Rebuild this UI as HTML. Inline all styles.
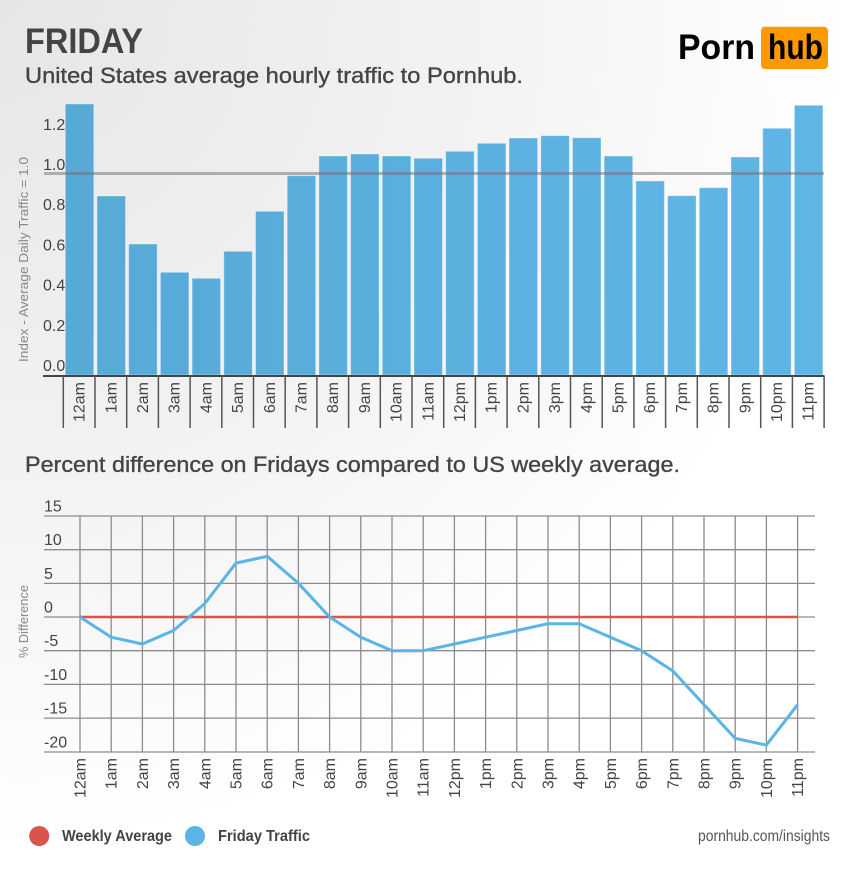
<!DOCTYPE html>
<html>
<head>
<meta charset="utf-8">
<style>
html,body{margin:0;padding:0;width:850px;height:870px;overflow:hidden;background:#fff;}
svg{display:block;}
text{font-family:"Liberation Sans",sans-serif;}
</style>
</head>
<body>
<svg width="850" height="870" viewBox="0 0 850 870" xmlns="http://www.w3.org/2000/svg">
<defs>
<radialGradient id="bg" gradientUnits="userSpaceOnUse" cx="0" cy="0" r="1000">
<stop offset="0" stop-color="#e6e6e6"/>
<stop offset="0.5" stop-color="#f3f3f3"/>
<stop offset="0.85" stop-color="#ffffff"/>
<stop offset="1" stop-color="#ffffff"/>
</radialGradient>
<linearGradient id="barg" gradientUnits="userSpaceOnUse" x1="60" y1="0" x2="830" y2="0">
<stop offset="0" stop-color="#57a9d6"/>
<stop offset="1" stop-color="#5fb6e6"/>
</linearGradient>
</defs>
<rect x="0" y="0" width="850" height="870" fill="url(#bg)"/>

<!-- Header -->
<text x="25" y="53" font-size="35" font-weight="bold" fill="#444" textLength="118" lengthAdjust="spacingAndGlyphs">FRIDAY</text>
<text x="25" y="83" font-size="22" fill="#444" stroke="#444" stroke-width="0.35" textLength="498" lengthAdjust="spacingAndGlyphs">United States average hourly traffic to Pornhub.</text>

<!-- Logo -->
<text x="678" y="59" font-size="35" font-weight="bold" fill="#000" textLength="77" lengthAdjust="spacingAndGlyphs">Porn</text>
<rect x="761" y="26.7" width="67" height="42.3" rx="4" fill="#ff9900"/>
<text x="768" y="59" font-size="35" font-weight="bold" fill="#000" textLength="55" lengthAdjust="spacingAndGlyphs">hub</text>

<!-- Bar chart y title -->
<text transform="translate(28,259.5) rotate(-90)" text-anchor="middle" font-size="13" fill="#888" textLength="205" lengthAdjust="spacingAndGlyphs">Index - Average Daily Traffic = 1.0</text>

<!-- Bar chart y labels -->
<g font-size="16" fill="#444">
<text x="43" y="371">0.0</text>
<text x="43" y="330.8">0.2</text>
<text x="43" y="290.6">0.4</text>
<text x="43" y="250.4">0.6</text>
<text x="43" y="210.2">0.8</text>
<text x="43" y="170">1.0</text>
<text x="43" y="129.8">1.2</text>
</g>

<!-- Bars -->
<g fill="url(#barg)" stroke="rgba(255,255,255,0.35)" stroke-width="1">
<rect x="65.3" y="104" width="28.5" height="271"/>
<rect x="97" y="196" width="28.5" height="179"/>
<rect x="128.7" y="244" width="28.5" height="131"/>
<rect x="160.4" y="272.3" width="28.5" height="102.7"/>
<rect x="192.1" y="278.3" width="28.5" height="96.7"/>
<rect x="223.8" y="251.3" width="28.5" height="123.7"/>
<rect x="255.5" y="211.3" width="28.5" height="163.7"/>
<rect x="287.2" y="175.7" width="28.5" height="199.3"/>
<rect x="318.9" y="156" width="28.5" height="219"/>
<rect x="350.6" y="154" width="28.5" height="221"/>
<rect x="382.3" y="156" width="28.5" height="219"/>
<rect x="414" y="158.3" width="28.5" height="216.7"/>
<rect x="445.7" y="151.3" width="28.5" height="223.7"/>
<rect x="477.4" y="143.3" width="28.5" height="231.7"/>
<rect x="509.1" y="138" width="28.5" height="237"/>
<rect x="540.8" y="135.7" width="28.5" height="239.3"/>
<rect x="572.5" y="137.7" width="28.5" height="237.3"/>
<rect x="604.2" y="156" width="28.5" height="219"/>
<rect x="635.9" y="181" width="28.5" height="194"/>
<rect x="667.6" y="195.7" width="28.5" height="179.3"/>
<rect x="699.3" y="187.7" width="28.5" height="187.3"/>
<rect x="731" y="157" width="28.5" height="218"/>
<rect x="762.7" y="128.3" width="28.5" height="246.7"/>
<rect x="794.4" y="105.3" width="28.5" height="269.7"/>
</g>

<!-- 1.0 reference line -->
<line x1="44" y1="173.5" x2="824" y2="173.5" stroke="rgba(110,110,110,0.5)" stroke-width="3"/>

<!-- Bar axis -->
<line x1="43" y1="376" x2="824.5" y2="376" stroke="#444" stroke-width="2"/>
<g stroke="#555" stroke-width="1.5">
<line x1="63.3" y1="376" x2="63.3" y2="428"/>
<line x1="95" y1="376" x2="95" y2="428"/>
<line x1="126.7" y1="376" x2="126.7" y2="428"/>
<line x1="158.4" y1="376" x2="158.4" y2="428"/>
<line x1="190.1" y1="376" x2="190.1" y2="428"/>
<line x1="221.8" y1="376" x2="221.8" y2="428"/>
<line x1="253.5" y1="376" x2="253.5" y2="428"/>
<line x1="285.2" y1="376" x2="285.2" y2="428"/>
<line x1="316.9" y1="376" x2="316.9" y2="428"/>
<line x1="348.6" y1="376" x2="348.6" y2="428"/>
<line x1="380.3" y1="376" x2="380.3" y2="428"/>
<line x1="412" y1="376" x2="412" y2="428"/>
<line x1="443.7" y1="376" x2="443.7" y2="428"/>
<line x1="475.4" y1="376" x2="475.4" y2="428"/>
<line x1="507.1" y1="376" x2="507.1" y2="428"/>
<line x1="538.8" y1="376" x2="538.8" y2="428"/>
<line x1="570.5" y1="376" x2="570.5" y2="428"/>
<line x1="602.2" y1="376" x2="602.2" y2="428"/>
<line x1="633.9" y1="376" x2="633.9" y2="428"/>
<line x1="665.6" y1="376" x2="665.6" y2="428"/>
<line x1="697.3" y1="376" x2="697.3" y2="428"/>
<line x1="729" y1="376" x2="729" y2="428"/>
<line x1="760.7" y1="376" x2="760.7" y2="428"/>
<line x1="792.4" y1="376" x2="792.4" y2="428"/>
<line x1="824.1" y1="376" x2="824.1" y2="428"/>
</g>

<!-- Bar x labels -->
<g font-size="16" fill="#444" text-anchor="end">
<text transform="translate(84.6,382) rotate(-90)">12am</text>
<text transform="translate(116.3,382) rotate(-90)">1am</text>
<text transform="translate(148,382) rotate(-90)">2am</text>
<text transform="translate(179.7,382) rotate(-90)">3am</text>
<text transform="translate(211.4,382) rotate(-90)">4am</text>
<text transform="translate(243.1,382) rotate(-90)">5am</text>
<text transform="translate(274.8,382) rotate(-90)">6am</text>
<text transform="translate(306.5,382) rotate(-90)">7am</text>
<text transform="translate(338.2,382) rotate(-90)">8am</text>
<text transform="translate(369.9,382) rotate(-90)">9am</text>
<text transform="translate(401.6,382) rotate(-90)">10am</text>
<text transform="translate(433.3,382) rotate(-90)">11am</text>
<text transform="translate(465,382) rotate(-90)">12pm</text>
<text transform="translate(496.7,382) rotate(-90)">1pm</text>
<text transform="translate(528.4,382) rotate(-90)">2pm</text>
<text transform="translate(560.1,382) rotate(-90)">3pm</text>
<text transform="translate(591.8,382) rotate(-90)">4pm</text>
<text transform="translate(623.5,382) rotate(-90)">5pm</text>
<text transform="translate(655.2,382) rotate(-90)">6pm</text>
<text transform="translate(686.9,382) rotate(-90)">7pm</text>
<text transform="translate(718.6,382) rotate(-90)">8pm</text>
<text transform="translate(750.3,382) rotate(-90)">9pm</text>
<text transform="translate(782,382) rotate(-90)">10pm</text>
<text transform="translate(813.7,382) rotate(-90)">11pm</text>
</g>

<!-- Line chart title -->
<text x="25" y="472" font-size="22" fill="#444" stroke="#444" stroke-width="0.35" textLength="655" lengthAdjust="spacingAndGlyphs">Percent difference on Fridays compared to US weekly average.</text>

<!-- Line chart y title -->
<text transform="translate(28,621.5) rotate(-90)" text-anchor="middle" font-size="13" fill="#888" textLength="73" lengthAdjust="spacingAndGlyphs">% Difference</text>

<!-- Grid horizontal -->
<g stroke="#8c8c8c" stroke-width="1.3">
<line x1="44" y1="516" x2="815" y2="516"/>
<line x1="44" y1="549.7" x2="815" y2="549.7"/>
<line x1="44" y1="583.4" x2="815" y2="583.4"/>
<line x1="44" y1="617" x2="815" y2="617"/>
<line x1="44" y1="650.7" x2="815" y2="650.7"/>
<line x1="44" y1="684.4" x2="815" y2="684.4"/>
<line x1="44" y1="718.1" x2="815" y2="718.1"/>
<line x1="44" y1="752" x2="815" y2="752"/>
</g>
<!-- Grid vertical -->
<g stroke="#8c8c8c" stroke-width="1.3">
<line x1="80" y1="516" x2="80" y2="752"/>
<line x1="111.2" y1="516" x2="111.2" y2="752"/>
<line x1="142.4" y1="516" x2="142.4" y2="752"/>
<line x1="173.6" y1="516" x2="173.6" y2="752"/>
<line x1="204.8" y1="516" x2="204.8" y2="752"/>
<line x1="236" y1="516" x2="236" y2="752"/>
<line x1="267.2" y1="516" x2="267.2" y2="752"/>
<line x1="298.4" y1="516" x2="298.4" y2="752"/>
<line x1="329.6" y1="516" x2="329.6" y2="752"/>
<line x1="360.8" y1="516" x2="360.8" y2="752"/>
<line x1="392" y1="516" x2="392" y2="752"/>
<line x1="423.2" y1="516" x2="423.2" y2="752"/>
<line x1="454.4" y1="516" x2="454.4" y2="752"/>
<line x1="485.6" y1="516" x2="485.6" y2="752"/>
<line x1="516.8" y1="516" x2="516.8" y2="752"/>
<line x1="548" y1="516" x2="548" y2="752"/>
<line x1="579.2" y1="516" x2="579.2" y2="752"/>
<line x1="610.4" y1="516" x2="610.4" y2="752"/>
<line x1="641.6" y1="516" x2="641.6" y2="752"/>
<line x1="672.8" y1="516" x2="672.8" y2="752"/>
<line x1="704" y1="516" x2="704" y2="752"/>
<line x1="735.2" y1="516" x2="735.2" y2="752"/>
<line x1="766.4" y1="516" x2="766.4" y2="752"/>
<line x1="797.6" y1="516" x2="797.6" y2="752"/>
</g>

<!-- Line chart y labels -->
<g font-size="16" fill="#444">
<text x="44" y="511.5">15</text>
<text x="44" y="545.2">10</text>
<text x="44" y="578.9">5</text>
<text x="44" y="612.5">0</text>
<text x="44" y="646.2">-5</text>
<text x="44" y="679.9">-10</text>
<text x="44" y="713.6">-15</text>
<text x="44" y="747.5">-20</text>
</g>

<!-- Weekly average line -->
<line x1="80" y1="617" x2="797.6" y2="617" stroke="#d9534f" stroke-width="2.6"/>

<!-- Friday traffic line -->
<polyline fill="none" stroke="#5ab4e6" stroke-width="3" stroke-linejoin="round" points="80,617 111.2,637.2 142.4,644 173.6,630.5 204.8,603.5 236,563.1 267.2,556.3 298.4,583.3 329.6,617 360.8,637.2 392,650.7 423.2,650.7 454.4,644 485.6,637.2 516.8,630.5 548,623.7 579.2,623.7 610.4,637.2 641.6,650.7 672.8,670.9 704,704.7 735.2,738.4 766.4,745.1 797.6,704.7"/>

<!-- Line chart x labels -->
<g font-size="16" fill="#444" text-anchor="end">
<text transform="translate(85.5,758) rotate(-90)">12am</text>
<text transform="translate(116.7,758) rotate(-90)">1am</text>
<text transform="translate(147.9,758) rotate(-90)">2am</text>
<text transform="translate(179.1,758) rotate(-90)">3am</text>
<text transform="translate(210.3,758) rotate(-90)">4am</text>
<text transform="translate(241.5,758) rotate(-90)">5am</text>
<text transform="translate(272.7,758) rotate(-90)">6am</text>
<text transform="translate(303.9,758) rotate(-90)">7am</text>
<text transform="translate(335.1,758) rotate(-90)">8am</text>
<text transform="translate(366.3,758) rotate(-90)">9am</text>
<text transform="translate(397.5,758) rotate(-90)">10am</text>
<text transform="translate(428.7,758) rotate(-90)">11am</text>
<text transform="translate(459.9,758) rotate(-90)">12pm</text>
<text transform="translate(491.1,758) rotate(-90)">1pm</text>
<text transform="translate(522.3,758) rotate(-90)">2pm</text>
<text transform="translate(553.5,758) rotate(-90)">3pm</text>
<text transform="translate(584.7,758) rotate(-90)">4pm</text>
<text transform="translate(615.9,758) rotate(-90)">5pm</text>
<text transform="translate(647.1,758) rotate(-90)">6pm</text>
<text transform="translate(678.3,758) rotate(-90)">7pm</text>
<text transform="translate(709.5,758) rotate(-90)">8pm</text>
<text transform="translate(740.7,758) rotate(-90)">9pm</text>
<text transform="translate(771.9,758) rotate(-90)">10pm</text>
<text transform="translate(803.1,758) rotate(-90)">11pm</text>
</g>

<!-- Legend -->
<circle cx="39.2" cy="836" r="10" fill="#d9534f"/>
<text x="62" y="841" font-size="16" font-weight="bold" fill="#444" textLength="110" lengthAdjust="spacingAndGlyphs">Weekly Average</text>
<circle cx="195" cy="836" r="10" fill="#5ab4e6"/>
<text x="218" y="841" font-size="16" font-weight="bold" fill="#444" textLength="92" lengthAdjust="spacingAndGlyphs">Friday Traffic</text>
<text x="830" y="841" font-size="16" fill="#555" text-anchor="end" textLength="132" lengthAdjust="spacingAndGlyphs">pornhub.com/insights</text>
</svg>
</body>
</html>
